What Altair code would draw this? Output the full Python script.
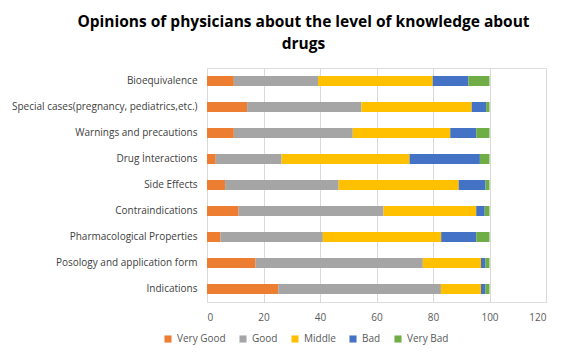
import altair as alt
import pandas as pd

categories = [
    "Bioequivalence",
    "Special cases(pregnancy, pediatrics,etc.)",
    "Warnings and precautions",
    "Drug İnteractions",
    "Side Effects",
    "Contraindications",
    "Pharmacological Properties",
    "Posology and application form",
    "Indications",
]
levels = ["Very Good", "Good", "Middle", "Bad", "Very Bad"]
colors = ["#ED7D31", "#A5A5A5", "#FFC000", "#4472C4", "#70AD47"]

very_good = [9.5, 14.2, 9.5, 3.1, 6.4, 11.2, 4.8, 17.2, 25.2]
good = [29.8, 40.5, 42.1, 23.3, 40.2, 51.3, 36.2, 59.2, 57.6]
middle = [40.6, 39.0, 34.5, 45.3, 42.5, 32.8, 41.9, 20.6, 14.2]
bad = [12.6, 5.1, 9.2, 24.9, 9.5, 3.0, 12.4, 1.6, 1.6]
very_bad = [7.5, 1.2, 4.7, 3.4, 1.4, 1.7, 4.7, 1.4, 1.4]

series = [very_good, good, middle, bad, very_bad]
rows = []
for li, (lvl, vals) in enumerate(zip(levels, series)):
    for cat, v in zip(categories, vals):
        rows.append({"Category": cat, "Level": lvl, "Value": v, "ord": li})
df = pd.DataFrame(rows)

font = "Open Sans"

chart = alt.Chart(df).mark_bar(size=10).encode(
    y=alt.Y("Category:N", sort=categories, title=None,
            scale=alt.Scale(paddingInner=0, paddingOuter=0),
            axis=alt.Axis(labelFont=font, labelFontSize=10, labelColor="#404040",
                          ticks=False, domain=False, grid=False, labelPadding=10,
                          labelLimit=300)),
    x=alt.X("Value:Q", stack="zero", title=None,
            scale=alt.Scale(domain=[0, 120], nice=False),
            axis=alt.Axis(values=[0, 20, 40, 60, 80, 100, 120], labelFont=font,
                          labelFontSize=10, labelColor="#595959", ticks=False,
                          domain=False, gridColor="#D9D9D9", labelPadding=10)),
    color=alt.Color("Level:N", sort=levels,
                    scale=alt.Scale(domain=levels, range=colors),
                    legend=alt.Legend(orient="none", direction="horizontal",
                                      legendX=-44, legendY=266, title=None,
                                      symbolType="square", symbolSize=50,
                                      labelFont=font, labelFontSize=10,
                                      labelColor="#595959", columnPadding=12,
                                      symbolStrokeWidth=0)),
    order=alt.Order("ord:Q"),
).properties(
    width=339,
    height=234,
    padding={"left": 207, "top": 68, "right": 15, "bottom": 54},
    autosize=alt.AutoSizeParams(type="none"),
    title=alt.TitleParams(
        ["Opinions of physicians about the level of knowledge about", "drugs"],
        font=font, fontSize=15.5, fontWeight="bold", color="#000000",
        anchor="middle", dx=-73, offset=16, lineHeight=22),
).configure_view(stroke=None).configure(background="white")

chart.save("out.html", embed_options={"renderer": "svg", "actions": False})
